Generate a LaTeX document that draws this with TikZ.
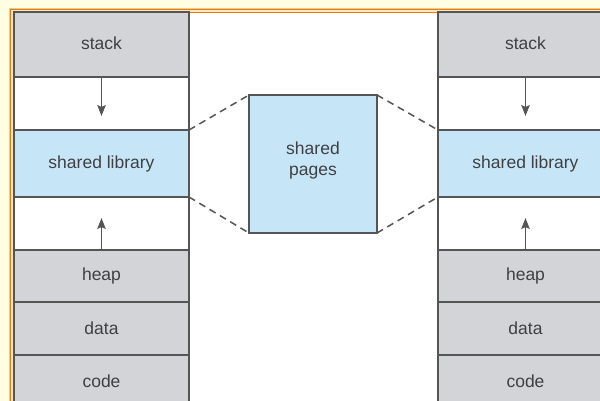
\documentclass[tikz,border=0pt]{standalone}
\usepackage{fontspec}
\setmainfont{Liberation Sans}
\usetikzlibrary{arrows.meta}
\definecolor{bgyellow}{HTML}{FFFDE2}
\definecolor{frameorange}{HTML}{E07F12}
\definecolor{paleorange}{HTML}{F5C58A}
\definecolor{gaporange}{HTML}{FCE6C4}
\definecolor{segray}{HTML}{D3D4D7}
\definecolor{segblue}{HTML}{C6E6F8}
\definecolor{edgegray}{HTML}{555555}
\definecolor{txtgray}{HTML}{404043}
\tikzset{
  seg/.style={draw=edgegray, line width=1.2pt, inner sep=0pt, outer sep=0pt,
    minimum width=175pt, font=\fontsize{17.5}{20}\selectfont, text=txtgray},
  grayseg/.style={seg, fill=segray},
  blueseg/.style={seg, fill=segblue},
  whiteseg/.style={seg, fill=white},
  lbl/.style={font=\fontsize{17.5}{21}\selectfont, text=txtgray, align=center},
  arr/.style={draw=edgegray, line width=1.7pt, -{Stealth[length=11pt,width=8.5pt,inset=2pt]}},
  dashline/.style={draw=edgegray, line width=1.5pt, dash pattern=on 7pt off 5pt},
}
\begin{document}
\begin{tikzpicture}[x=1pt,y=-1pt]
\useasboundingbox (0,0) rectangle (600,401);
\clip (0,0) rectangle (600,401);
% background and frame
\fill[bgyellow] (0,0) rectangle (600,401);
\draw[paleorange, line width=1pt] (9.3,8.3) rectangle (700,500);
\fill[gaporange] (10,9) rectangle (700,500);
\draw[frameorange, line width=1pt] (10.8,9.8) rectangle (700,500);
\draw[frameorange, line width=1pt] (13.2,12.2) rectangle (700,500);
\fill[white] (13.7,12.7) rectangle (700,500);
% left column
\node[grayseg, minimum height=65pt] (stackL) at (101.5,44.5) {};
\node[lbl] (stackLt) at (101.5,43.5) {stack};
\node[whiteseg, minimum height=53pt] (gap1L) at (101.5,103.5) {};
\node[blueseg, minimum height=67pt] (libL) at (101.5,163.5) {};
\node[lbl] (libLt) at (101.5,164) {shared library};
\node[whiteseg, minimum height=53pt] (gap2L) at (101.5,223.5) {};
\node[grayseg, minimum height=52pt] (heapL) at (101.5,276) {heap};
\node[grayseg, minimum height=53pt] (dataL) at (101.5,328.5) {data};
\node[grayseg, minimum height=65pt] (codeL) at (101.5,387.5) {};
\node[lbl] (codeLt) at (101.5,381) {code};
% right column
\node[grayseg, minimum height=65pt] (stackR) at (525.5,44.5) {};
\node[lbl] (stackRt) at (525.5,43.5) {stack};
\node[whiteseg, minimum height=53pt] (gap1R) at (525.5,103.5) {};
\node[blueseg, minimum height=67pt] (libR) at (525.5,163.5) {};
\node[lbl] (libRt) at (525.5,164) {shared library};
\node[whiteseg, minimum height=53pt] (gap2R) at (525.5,223.5) {};
\node[grayseg, minimum height=52pt] (heapR) at (525.5,276) {heap};
\node[grayseg, minimum height=53pt] (dataR) at (525.5,328.5) {data};
\node[grayseg, minimum height=65pt] (codeR) at (525.5,387.5) {};
\node[lbl] (codeRt) at (525.5,381) {code};
% shared pages
\node[blueseg, minimum width=128pt, minimum height=138pt] (pages) at (313,164) {};
\node[lbl] (pagest) at (313,160) {shared\\pages};
% arrows
\coordinate (tip1L) at (101.5,116);
\coordinate (tip2L) at (101.5,218);
\coordinate (tip1R) at (525.5,116);
\coordinate (tip2R) at (525.5,218);
\draw[arr] (stackL.south) -- (tip1L);
\draw[arr] (heapL.north) -- (tip2L);
\draw[arr] (stackR.south) -- (tip1R);
\draw[arr] (heapR.north) -- (tip2R);
% dashed connectors
\draw[dashline] (libL.north east) -- (pages.north west);
\draw[dashline] (libL.south east) -- (pages.south west);
\draw[dashline] (pages.north east) -- (libR.north west);
\draw[dashline] (pages.south east) -- (libR.south west);
\end{tikzpicture}
\end{document}
